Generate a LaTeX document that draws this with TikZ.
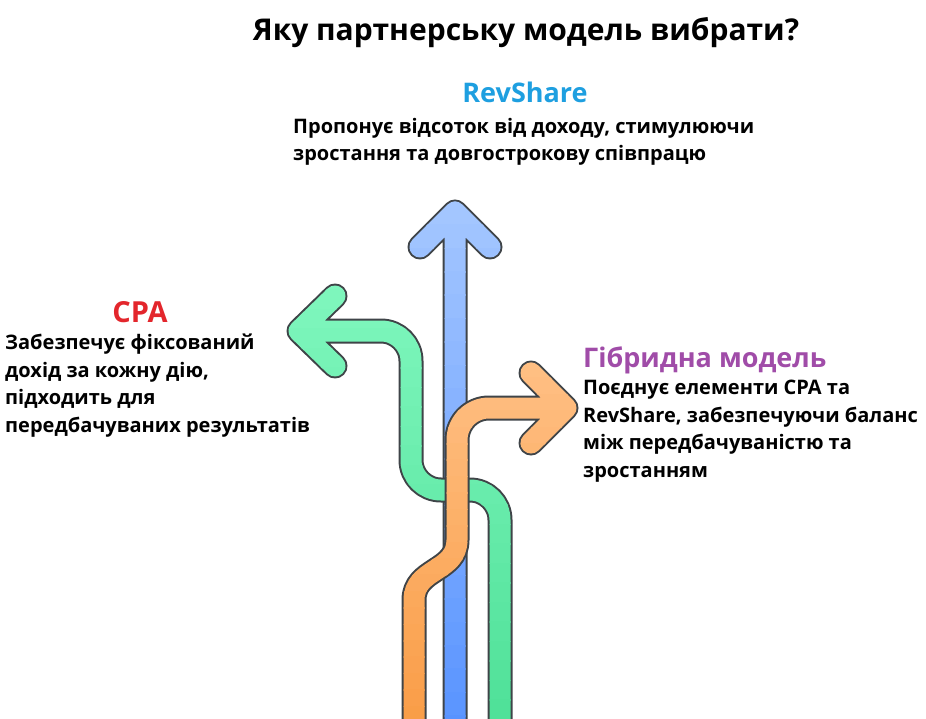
\documentclass[tikz,border=0pt]{standalone}
\usepackage{fontspec}
\setmainfont{Open Sans}
\definecolor{edgegray}{HTML}{3F4448}
\definecolor{bluetop}{HTML}{A6C8FF}
\definecolor{bluebot}{HTML}{5893FF}
\definecolor{greentop}{HTML}{80F7BE}
\definecolor{greenbot}{HTML}{4EE097}
\definecolor{orangetop}{HTML}{FFC085}
\definecolor{orangebot}{HTML}{F99C45}
\definecolor{revblue}{HTML}{1E9FE0}
\definecolor{cpared}{HTML}{E3262C}
\definecolor{hybpurple}{HTML}{A04CA8}
\tikzset{
  arrowedge/.style={draw=edgegray, line width=25pt, line cap=round, line join=round},
  arrowbody/.style={line width=21pt, line cap=round, line join=round},
  heading/.style={font=\bfseries\fontsize{27}{32}\selectfont, inner sep=0pt, anchor=base},
  info/.style={font=\bfseries\fontsize{20}{27.5}\selectfont, align=left, inner sep=0pt, anchor=north west},
}
% paths of the three arrows
\newcommand\revpath{(455,740) -- (455,214) (420,247) -- (455,212) -- (490,247)}
\newcommand\cpapath{[rounded corners=30] (500,740) -- (500,490) -- (411,490) -- (411,331) -- (301,331)
  [sharp corners] (335,296) -- (299,331) -- (335,366)}
\newcommand\hybpath{(414,740) -- (414,600) .. controls (414,568) and (457,572) .. (457,540)
  [rounded corners=32] -- (457,408) -- (564,408)
  [sharp corners] (531,373) -- (566,408) -- (531,443)}
% one arrow: outline, then the fill in horizontal bands (light at the top)
\newcommand\arrowdraw[4]{% path, top colour, bottom colour, top y
  \draw[arrowedge] #1;
  \foreach \k in {0,...,23} {
    \pgfmathsetmacro\ya{#4-20+(739-#4+20)*\k/24}
    \pgfmathsetmacro\yb{#4-20+(739-#4+20)*(\k+1)/24+0.6}
    \pgfmathtruncatemacro\pc{100*\k/23}
    \begin{scope}
      \clip (0,\ya) rectangle (926,\yb);
      \draw[arrowbody, draw=#3!\pc!#2] #1;
    \end{scope}
  }
}
\begin{document}
\begin{tikzpicture}[x=1pt, y=-1pt]
  \useasboundingbox (0,0) rectangle (926,719);
  \clip (0,0) rectangle (926,719);
  % Arrows
  \arrowdraw{\revpath}{bluetop}{bluebot}{198}
  \arrowdraw{\cpapath}{greentop}{greenbot}{290}
  \arrowdraw{\hybpath}{orangetop}{orangebot}{365}
  % Texts
  \node[heading, font=\bfseries\fontsize{30}{36}\selectfont] (title) at (526,41)
    {Яку партнерську модель вибрати?};
  \node[heading, text=revblue] (revhead) at (525,103) {RevShare};
  \node[info] (revinfo) at (293,118)
    {Пропонує відсоток від доходу, стимулюючи\\зростання та довгострокову співпрацю};
  \node[heading, text=cpared, font=\bfseries\fontsize{29}{34}\selectfont] (cpahead) at (140,322) {CPA};
  \node[info] (cpainfo) at (5,334)
    {Забезпечує фіксований\\дохід за кожну дію,\\підходить для\\передбачуваних результатів};
  \node[heading, text=hybpurple, anchor=base west] (hybhead) at (583,367) {Гібридна модель};
  \node[info] (hybinfo) at (583,380)
    {Поєднує елементи CPA та\\RevShare, забезпечуючи баланс\\між передбачуваністю та\\зростанням};
\end{tikzpicture}
\end{document}
